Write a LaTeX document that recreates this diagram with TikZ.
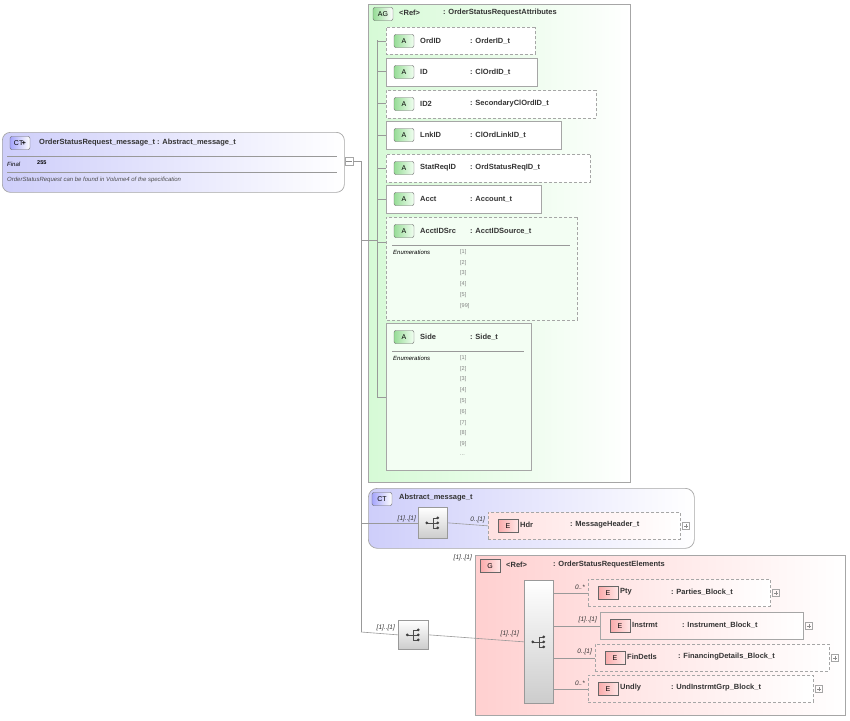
\documentclass[tikz,border=0pt]{standalone}
\usepackage{fontspec}
\setmainfont{Liberation Sans}
\usetikzlibrary{shapes.misc}
\definecolor{agfill}{RGB}{214,250,214}
\definecolor{ctfill}{RGB}{206,206,250}
\definecolor{gfill}{RGB}{255,208,208}
\definecolor{efill}{RGB}{250,170,170}
\definecolor{afill}{RGB}{150,220,150}
\tikzset{
  box/.style={draw=black!35, line width=0.7pt, anchor=north west, inner sep=0pt},
  dbox/.style={box, dash pattern=on 3pt off 2pt},
  cham/.style={chamfered rectangle, chamfered rectangle corners={north east,south west},
    chamfered rectangle xsep=6pt, chamfered rectangle ysep=6pt},
  lbl/.style={anchor=west, inner sep=0pt, font=\bfseries\fontsize{7.5}{9}\selectfont, text=black!80},
  card/.style={anchor=east, inner sep=0pt, font=\itshape\fontsize{6.5}{8}\selectfont, text=black!80},
  small/.style={anchor=west, inner sep=0pt, font=\fontsize{5.5}{7}\selectfont},
  enum/.style={anchor=west, inner sep=0pt, font=\fontsize{5.5}{6}\selectfont, text=black!50},
  icon/.style={draw=black!60, rounded corners=2pt, minimum width=20pt, minimum height=13pt,
    inner sep=0pt, font=\fontsize{7}{8}\selectfont},
  aicon/.style={icon, left color=afill, right color=green!5},
  eicon/.style={draw=black!60, minimum width=20pt, minimum height=13pt, inner sep=0pt,
    left color=efill, right color=red!10, font=\fontsize{7}{8}\selectfont},
  seq/.style={box, draw=black!40, top color=white, bottom color=black!20},
  plus/.style={draw=black!35, minimum size=7pt, inner sep=0pt,
    path picture={\draw[black!45] ([xshift=1.5pt]path picture bounding box.west) -- ([xshift=-1.5pt]path picture bounding box.east)
      ([yshift=1.5pt]path picture bounding box.south) -- ([yshift=-1.5pt]path picture bounding box.north);}},
  wire/.style={draw=black!40, line width=0.6pt},
}
% attribute box: name, x, y, width, height, label, type, style
\newcommand\attrib[8]{%
  \node[#8, minimum width=#4pt, minimum height=#5pt] (#1) at (#2,#3) {};
  \node[aicon] (#1i) at (#2+18,#3+14) {A};
  \node[lbl] at (420,#3+14) {#6};
  \node[lbl] at (470,#3+14) {: #7};
}
% sequence glyph inside node #1
\newcommand\seqglyph[1]{%
  \draw[black!70, line width=0.6pt] ([xshift=-6pt]#1.center) -- (#1.center)
    ([yshift=5pt]#1.center) -- ([yshift=-5pt]#1.center)
    ([yshift=5pt]#1.center) -- ([xshift=5pt,yshift=5pt]#1.center)
    (#1.center) -- ([xshift=5pt]#1.center)
    ([yshift=-5pt]#1.center) -- ([xshift=5pt,yshift=-5pt]#1.center);
  \fill[black!75] ([xshift=5pt,yshift=5pt]#1.center) circle (1.5pt) ([xshift=5pt]#1.center) circle (1.5pt)
    ([xshift=5pt,yshift=-5pt]#1.center) circle (1.5pt) ([xshift=-6pt]#1.center) circle (1.5pt);
}
% element box: name, x, y, width, label, type, style, card, typex
\newcommand\elem[9]{%
  \node[#7, minimum width=#4pt, minimum height=27pt, left color=red!12, right color=white] (#1) at (#2,#3) {};
  \node[eicon] (#1i) at (#2+20,#3+14) {E};
  \node[lbl] at (#2+32,#3+13) {#5};
  \node[lbl] at (#9,#3+13) {: #6};
  \node[plus] (#1p) at (#2+#4+6,#3+14) {};
  \node[card] at (#2-3,#3+8) {#8};
}
\begin{document}
\begin{tikzpicture}[x=1pt,y=-1pt]
\useasboundingbox (0,0) rectangle (850,720);
% main complex type
\node[box, rounded corners=8pt, minimum width=342pt, minimum height=60pt, left color=ctfill, right color=white] (main) at (2,132) {};
\node[icon, left color=ctfill!80!blue, right color=white] (mainicon) at (20,143) {CT$\!$\textbf{+}};
\node[lbl] at (39,143) {OrderStatusRequest\_message\_t : Abstract\_message\_t};
\draw[black!40] (7,156) -- (337,156) (7,172) -- (337,172);
\node[small, font=\itshape\fontsize{6}{7}\selectfont] at (7,164) {Final};
\node[small, font=\bfseries\fontsize{5.5}{7}\selectfont] at (37,163) {255};
\node[small, font=\itshape\fontsize{6}{7}\selectfont, text=black!70] at (7,180) {OrderStatusRequest can be found in Volume4 of the specification};
\node[draw=black!35, fill=white, minimum size=8pt, inner sep=0pt] (collapse) at (349,161) {};
\draw[black!45] (346,161) -- (352,161);
\coordinate (bus) at (361,161);
\coordinate (busend) at (361,632);
\draw[wire] (collapse.east) -- (bus) -- (busend);

% attribute group
\node[box, cham, chamfered rectangle xsep=8pt, chamfered rectangle ysep=8pt, minimum width=262pt, minimum height=478pt,
  left color=agfill, right color=white] (ag) at (368,4) {};
\node[icon, left color=afill, right color=white] (agicon) at (383,14) {AG};
\node[lbl] at (399,13) {<Ref>};
\node[lbl] at (443,13) {: OrderStatusRequestAttributes};
\coordinate (abus) at (377,40);
\coordinate (abusend) at (377,397);
\draw[wire] (abus) -- (abusend);
\draw[wire] (361,240) -- (377,240);
\attrib{ordid}{386}{27}{149}{27}{OrdID}{OrderID\_t}{dbox,cham,fill=white}
\attrib{id}{386}{58}{151}{28}{ID}{ClOrdID\_t}{box,fill=white}
\attrib{idtwo}{386}{90}{210}{28}{ID2}{SecondaryClOrdID\_t}{dbox,cham,fill=white}
\attrib{lnkid}{386}{121}{175}{28}{LnkID}{ClOrdLinkID\_t}{box,fill=white}
\attrib{statreqid}{386}{154}{204}{28}{StatReqID}{OrdStatusReqID\_t}{dbox,cham,fill=white}
\attrib{acct}{386}{185}{155}{28}{Acct}{Account\_t}{box,fill=white}
\attrib{acctidsrc}{386}{217}{191}{103}{AcctIDSrc}{AcctIDSource\_t}{dbox,cham,fill=white!70!agfill}
\attrib{side}{386}{323}{145}{147}{Side}{Side\_t}{box,cham,fill=white!70!agfill}
\foreach \y in {41,71,103,135,168,199,242,397}
  \draw[wire] (377,\y) -- (386,\y);
% enumerations
\draw[black!40] (392,245) -- (570,245) (392,351) -- (524,351);
\node[small, font=\itshape\fontsize{6}{7}\selectfont] at (393,252) {Enumerations};
\node[small, font=\itshape\fontsize{6}{7}\selectfont] at (393,358) {Enumerations};
\foreach \v [count=\i] in {1,2,3,4,5,99}
  \node[enum] at (460,241+\i*10.8) {[\v]};
\foreach \i in {1,...,9}
  \node[enum] at (460,347+\i*10.8) {[\i]};
\node[enum] at (460,455) {...};

% Abstract_message_t
\node[box, rounded corners=9pt, minimum width=326pt, minimum height=60pt, left color=ctfill, right color=white] (abstract) at (368,488) {};
\node[icon, left color=ctfill!80!blue, right color=white] (abicon) at (382,499) {CT};
\node[lbl] at (399,498) {Abstract\_message\_t};
\node[seq, minimum width=29pt, minimum height=31pt] (seqa) at (418,507) {};
\seqglyph{seqa}
\draw[wire] (bus |- seqa.center) -- (seqa.west);
\node[card] at (416,519) {[1]..[1]};
\elem{hdr}{488}{512}{192}{Hdr}{MessageHeader\_t}{dbox}{0..[1]}{570}
\draw[wire] (seqa.east) -- (hdr.west);

% group
\node[card] at (472,558) {[1]..[1]};
\node[box, minimum width=370pt, minimum height=160pt, left color=gfill, right color=white] (grp) at (475,555) {};
\node[eicon] (gicon) at (490,566) {G};
\node[lbl] at (506,565) {<Ref>};
\node[lbl] at (553,565) {: OrderStatusRequestElements};
\node[seq, minimum width=30pt, minimum height=29pt] (seqb) at (398,620) {};
\seqglyph{seqb}
\draw[wire] (busend) -- (seqb.west);
\node[card] at (395,628) {[1]..[1]};
\node[seq, minimum width=29pt, minimum height=123pt] (seqc) at (524,580) {};
\seqglyph{seqc}
\draw[wire] (seqb.east) -- (seqc.west);
\node[card] at (519,634) {[1]..[1]};
\elem{pty}{588}{579}{182}{Pty}{Parties\_Block\_t}{dbox}{0..*}{671}
\elem{instrmt}{600}{612}{203}{Instrmt}{Instrument\_Block\_t}{box}{[1]..[1]}{682}
\elem{findetls}{595}{644}{234}{FinDetls}{FinancingDetails\_Block\_t}{dbox}{0..[1]}{678}
\elem{undly}{588}{675}{225}{Undly}{UndInstrmtGrp\_Block\_t}{dbox}{0..*}{671}
\foreach \e in {pty,instrmt,findetls,undly}
  \draw[wire] (seqc.east |- \e.west) -- (\e.west);
\end{tikzpicture}
\end{document}
